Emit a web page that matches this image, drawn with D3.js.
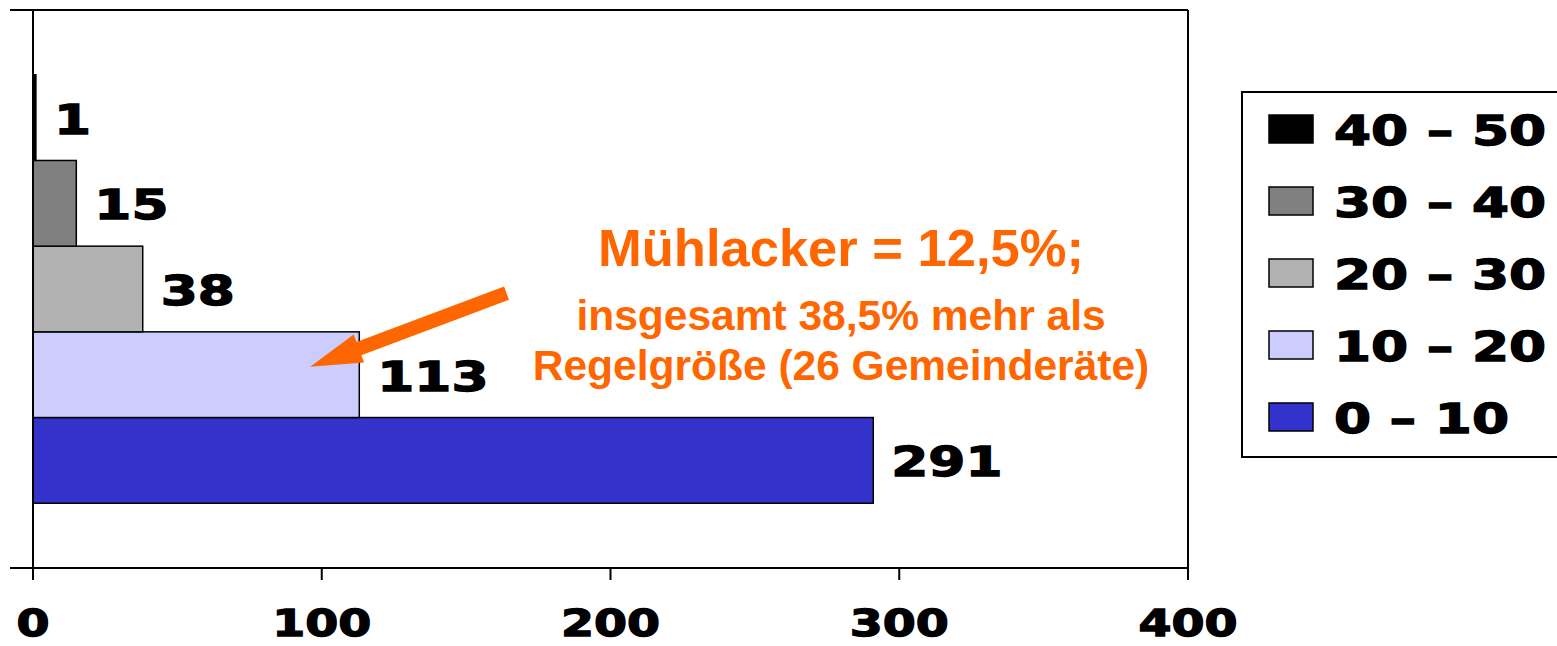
<!DOCTYPE html>
<html>
<head>
<meta charset="utf-8">
<script src="https://cdn.jsdelivr.net/npm/d3@7"></script>
<style>
  body { margin: 0; background: #fff; }
  svg { display: block; }
</style>
</head>
<body>
<svg id="chart"></svg>
<script>
// data
var categories = ['0 – 10', '10 – 20', '20 – 30', '30 – 40', '40 – 50']
var counts = [291, 113, 38, 15, 1]
var colors = ['#3333cc', '#ccccff', '#b2b2b2', '#808080', '#000000']
var xTicks = [0, 100, 200, 300, 400]
var noteLines = ['Mühlacker = 12,5%;', 'insgesamt 38,5% mehr als', 'Regelgröße (26 Gemeinderäte)']

var W = 1557, H = 646
var plot = {left: 33, right: 1188, top: 10, bottom: 568}

var svg = d3.select('#chart').attr('width', W).attr('height', H)

var x = d3.scaleLinear()
  .domain([0, 400])
  .range([plot.left, plot.right])

var y = d3.scaleBand()
  .domain(categories)
  .range([plot.bottom, plot.top])
  .paddingInner(0)
  .paddingOuter(0.756)

var color = d3.scaleOrdinal()
  .domain(categories)
  .range(colors)

var numFont = '"DejaVu Sans", sans-serif'

// heavy black number text (imitates a black-weight face)
function heavy(sel, size) {
  sel.style('font-family', numFont)
    .style('font-weight', 'bold')
    .style('font-size', size + 'px')
    .style('fill', '#000')
    .style('stroke', '#000')
    .style('stroke-width', 1.3)
}

// frame lines (top + right)
svg.append('line')
  .attr('x1', 10).attr('x2', plot.right)
  .attr('y1', plot.top).attr('y2', plot.top)
  .attr('stroke', '#000').attr('stroke-width', 2)
svg.append('line')
  .attr('x1', plot.right).attr('x2', plot.right)
  .attr('y1', plot.top).attr('y2', plot.bottom)
  .attr('stroke', '#000').attr('stroke-width', 2)

// bars
var bars = svg.selectAll('.bar')
  .data(categories)
  .enter().append('g').attr('class', 'bar')
bars.append('rect')
  .attr('x', x(0))
  .attr('y', function(d) { return y(d) })
  .attr('width', function(d, i) { return x(counts[i]) - x(0) })
  .attr('height', y.bandwidth())
  .style('fill', function(d) { return color(d) })
  .style('stroke', '#000')
  .style('stroke-width', 1.5)

bars.append('text')
  .attr('transform', function(d, i) {
    return 'translate(' + (x(counts[i]) + 18) + ',' + (y(d) + y.bandwidth() / 2 + 16) + ') scale(1.3,1)'
  })
  .call(heavy, 41)
  .text(function(d, i) { return counts[i] })

// x axis
var xAxis = svg.append('g')
xAxis.append('line')
  .attr('x1', 10).attr('x2', plot.right)
  .attr('y1', plot.bottom).attr('y2', plot.bottom)
  .attr('stroke', '#000').attr('stroke-width', 2)
xAxis.selectAll('.tick')
  .data(xTicks)
  .enter().append('line')
  .attr('x1', function(d) { return x(d) }).attr('x2', function(d) { return x(d) })
  .attr('y1', plot.bottom).attr('y2', plot.bottom + 12)
  .attr('stroke', '#000').attr('stroke-width', 2)
xAxis.selectAll('.ticklabel')
  .data(xTicks)
  .enter().append('text')
  .attr('transform', function(d) { return 'translate(' + x(d) + ',636) scale(1.25,1)' })
  .attr('text-anchor', 'middle')
  .call(heavy, 38)
  .text(function(d) { return d })

// y axis line
svg.append('line')
  .attr('x1', plot.left).attr('x2', plot.left)
  .attr('y1', plot.top).attr('y2', plot.bottom + 12)
  .attr('stroke', '#000').attr('stroke-width', 2)

// annotation arrow
var tail = [x(164), y('20 – 30') + 47]
var tip = [x(96), y('10 – 20') + 35]
var dx = tip[0] - tail[0], dy = tip[1] - tail[1]
var len = Math.sqrt(dx * dx + dy * dy)
var ux = dx / len, uy = dy / len, px = -uy, py = ux
var headLen = 52, headW = 15, shaftW = 7
var base = [tip[0] - ux * headLen, tip[1] - uy * headLen]
var arrowPts = [
  [tail[0] + px * shaftW, tail[1] + py * shaftW],
  [base[0] + px * shaftW, base[1] + py * shaftW],
  [base[0] + px * headW, base[1] + py * headW],
  tip,
  [base[0] - px * headW, base[1] - py * headW],
  [base[0] - px * shaftW, base[1] - py * shaftW],
  [tail[0] - px * shaftW, tail[1] - py * shaftW]
]
svg.append('path')
  .attr('d', d3.line()(arrowPts) + 'Z')
  .style('fill', '#ff6600')

// annotation text
var note = svg.append('g')
  .style('font-family', '"Liberation Sans", Arial, sans-serif')
  .style('font-weight', 'bold')
  .style('fill', '#ff6600')
  .attr('text-anchor', 'middle')
note.selectAll('text')
  .data(noteLines)
  .enter().append('text')
  .attr('x', 841)
  .attr('y', function(d, i) { return [266, 330, 380][i] })
  .style('font-size', function(d, i) { return i == 0 ? '52.5px' : '42.5px' })
  .text(function(d) { return d })

// legend (box runs off the right edge, as in the original)
var legend = svg.append('g')
legend.append('rect')
  .attr('x', 1242).attr('y', 92)
  .attr('width', 340).attr('height', 365)
  .style('fill', '#fff')
  .style('stroke', '#000')
  .style('stroke-width', 2)

var legendRows = categories.slice().reverse()
var rowY = d3.scalePoint()
  .domain(legendRows)
  .range([129, 417])

var item = legend.selectAll('.item')
  .data(legendRows)
  .enter().append('g').attr('class', 'item')
item.append('rect')
  .attr('x', 1269)
  .attr('y', function(d) { return rowY(d) - 14 })
  .attr('width', 44).attr('height', 28)
  .style('fill', function(d) { return color(d) })
  .style('stroke', '#000')
  .style('stroke-width', 1.5)
item.append('text')
  .attr('transform', function(d) { return 'translate(1334,' + (rowY(d) + 16) + ') scale(1.3,1)' })
  .call(heavy, 41)
  .text(function(d) { return d })
</script>
</body>
</html>
